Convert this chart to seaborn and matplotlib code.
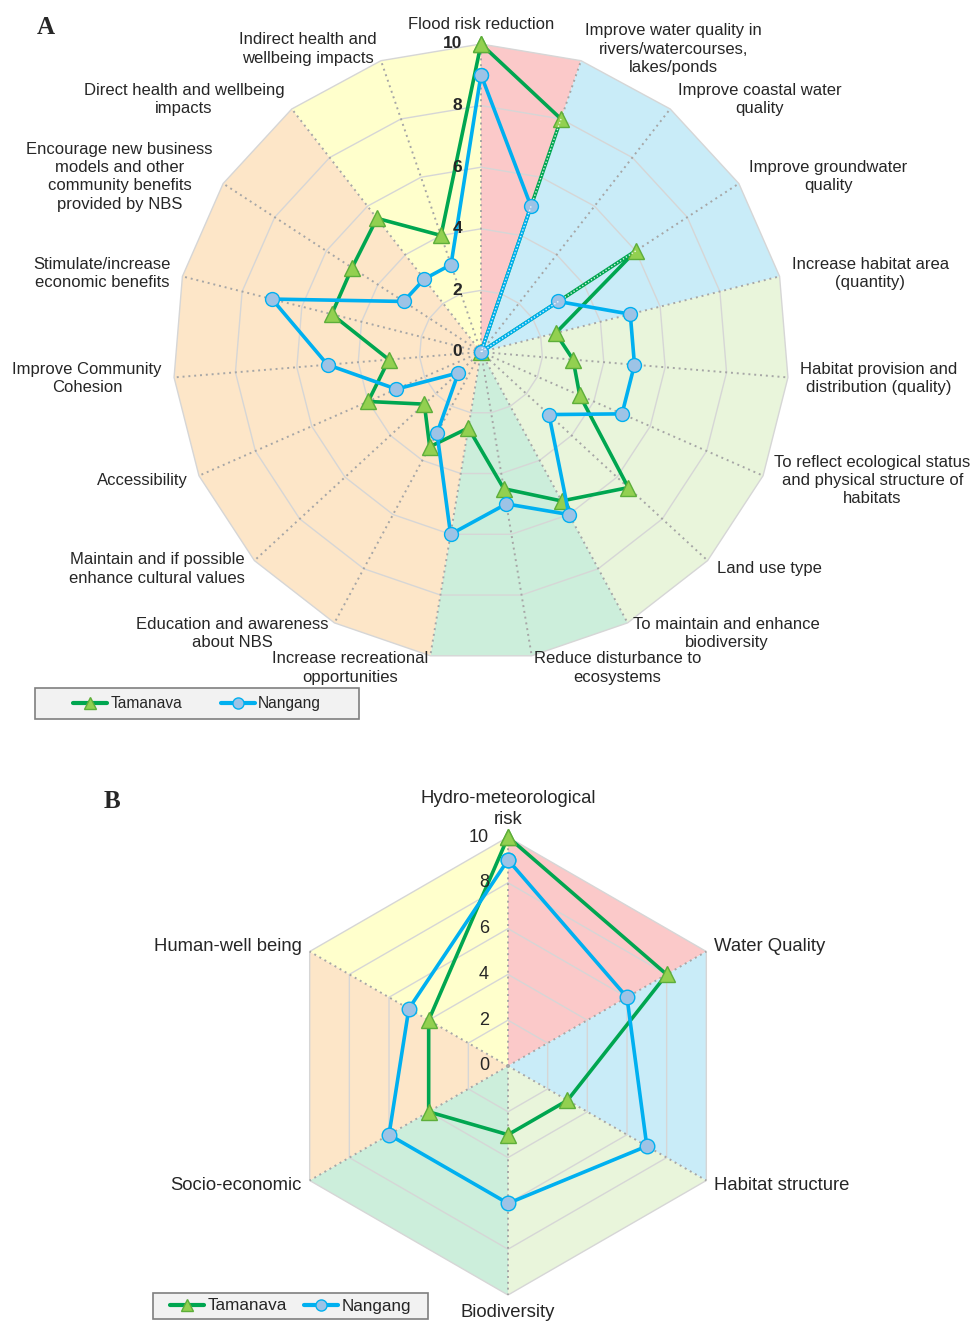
import numpy as np
import matplotlib
matplotlib.use("Agg")
import matplotlib.pyplot as plt
import seaborn as sns
from matplotlib.lines import Line2D
from matplotlib.patches import Rectangle

sns.set_style("white")
plt.rcParams["font.family"] = ["Liberation Sans", "DejaVu Sans"]

# ---------------- data ----------------
a_labels = [
    "Flood risk reduction",
    "Improve water quality in\nrivers/watercourses,\nlakes/ponds",
    "Improve coastal water\nquality",
    "Improve groundwater\nquality",
    "Increase habitat area\n(quantity)",
    "Habitat provision and\ndistribution (quality)",
    "To reflect ecological status\nand physical structure of\nhabitats",
    "Land use type",
    "To maintain and enhance\nbiodiversity",
    "Reduce disturbance to\necosystems",
    "Increase recreational\nopportunities",
    "Education and awareness\nabout NBS",
    "Maintain and if possible\nenhance cultural values",
    "Accessibility",
    "Improve Community\nCohesion",
    "Stimulate/increase\neconomic benefits",
    "Encourage new business\nmodels and other\ncommunity benefits\nprovided by NBS",
    "Direct health and wellbeing\nimpacts",
    "Indirect health and\nwellbeing impacts",
]
a_tamanava = [10, 8, 0, 6, 2.5, 3, 3.5, 6.5, 5.5, 4.5, 2.5, 3.5, 2.5, 4, 3, 5, 5, 5.5, 4]
a_nangang = [9, 5, 0, 3, 5, 5, 5, 3, 6, 5, 6, 3, 1, 3, 5, 7, 3, 3, 3]
a_sector_bounds = [0, 1, 4, 8, 10, 17, 19]

b_labels = ["Hydro-meteorological\nrisk", "Water Quality", "Habitat structure",
            "Biodiversity", "Socio-economic", "Human-well being"]
b_tamanava = [10, 8, 3, 3, 4, 4]
b_nangang = [9, 6, 7, 6, 6, 5]
b_sector_bounds = [0, 1, 2, 3, 4, 5, 6]

sector_colors = ["#FBC9C9", "#C9ECF8", "#E9F5DB", "#CCEEDB", "#FDE6C8", "#FFFFCC"]
ring_ticks = [0, 2, 4, 6, 8, 10]
series_names = ["Tamanava", "Nangang"]

GREEN = "#00A650"
BLUE = "#00B0F0"
TRI_FACE = "#92D050"
TRI_EDGE = "#5DAE3A"
CIR_FACE = "#9DC3E6"


def draw_radar(ax, labels, tam, nan, bounds, label_fs, tick_fs, tick_bold,
               lw, tri_ms, cir_ms):
    n = len(labels)
    th = np.arange(n) * 2 * np.pi / n
    th_c = np.append(th, 2 * np.pi)
    ax.set_theta_zero_location("N")
    ax.set_theta_direction(-1)
    ax.patch.set_alpha(0)
    ax.spines["polar"].set_visible(False)
    ax.grid(False)

    # background sectors
    for k in range(len(bounds) - 1):
        a, b = bounds[k], bounds[k + 1]
        ts = [0] + [th_c[j] for j in range(a, b + 1)]
        rs = [0] + [10] * (b - a + 1)
        ax.fill(ts, rs, color=sector_colors[k], lw=0, zorder=0)

    # rings
    for r in ring_ticks[1:]:
        ax.plot(th_c, [r] * len(th_c), color="#D6D6D6", lw=1.0, zorder=1)
    # spokes
    for t in th:
        ax.plot([t, t], [0, 10], color="#A6A6A6", lw=1.4, ls=(0, (1, 2)), zorder=2)

    tam_c = list(tam) + [tam[0]]
    nan_c = list(nan) + [nan[0]]
    sns.lineplot(x=th_c, y=tam_c, sort=False, estimator=None, ax=ax, color=GREEN,
                 lw=lw, marker="^", markersize=tri_ms, markerfacecolor=TRI_FACE,
                 markeredgecolor=TRI_EDGE, markeredgewidth=1.0, zorder=5)
    sns.lineplot(x=th_c, y=nan_c, sort=False, estimator=None, ax=ax, color=BLUE,
                 lw=lw, marker="o", markersize=cir_ms, markerfacecolor=CIR_FACE,
                 markeredgecolor=BLUE, markeredgewidth=1.0, zorder=6)

    # dotted look of segments running along a spoke to a zero value
    for vals, z in ((tam, 5.5), (nan, 6.5)):
        for i, v in enumerate(vals):
            if v == 0:
                for j in (i - 1, (i + 1) % n):
                    ax.plot([th[j], th[i]], [vals[j], 0], color="white", lw=1.0,
                            ls=(0, (1, 1.5)), alpha=0.85, zorder=z)

    for ln in ax.lines:
        ln.set_clip_on(False)

    ax.set_xlabel("")
    ax.set_ylabel("")
    ax.set_xticks([])
    ax.set_yticks([])
    ax.set_ylim(0, 10)
    ax.set_thetalim(0, 2 * np.pi)

    # category labels
    for t, lab in zip(th, labels):
        s = np.sin(t)
        c = np.cos(t)
        if s > 0.05:
            ha = "left"
        elif s < -0.05:
            ha = "right"
        else:
            ha = "center"
        if ha == "center":
            va = "bottom" if c > 0 else "top"
        else:
            va = "center"
        ax.text(t, 10.4, lab, ha=ha, va=va, multialignment="center",
                fontsize=label_fs, linespacing=1.27, zorder=10)

    # ring value labels
    for r in ring_ticks:
        ax.annotate(str(r), xy=(0, r), xytext=(-19, 0), textcoords="offset pixels",
                    ha="right", va="center", fontsize=tick_fs,
                    fontweight="bold" if tick_bold else "normal", zorder=10)


def add_legend(fig, box_px, fs, hl, cs):
    W, H = 973, 1324
    x0, y0, x1, y1 = box_px
    rect = Rectangle((x0 / W, 1 - y1 / H), (x1 - x0) / W, (y1 - y0) / H,
                     transform=fig.transFigure, facecolor="#F2F2F2",
                     edgecolor="#7F7F7F", lw=1.2, zorder=0)
    fig.patches.append(rect)
    handles = [
        Line2D([], [], color=GREEN, lw=3, marker="^", markersize=8,
               markerfacecolor=TRI_FACE, markeredgecolor=TRI_EDGE),
        Line2D([], [], color=BLUE, lw=3, marker="o", markersize=8,
               markerfacecolor=CIR_FACE, markeredgecolor=BLUE),
    ]
    fig.legend(handles, series_names, loc="center",
               bbox_to_anchor=((x0 + x1) / 2 / W, 1 - (y0 + y1) / 2 / H),
               ncol=2, frameon=False, fontsize=fs, handlelength=hl,
               handletextpad=0.2, columnspacing=cs, borderpad=0.2)


fig = plt.figure(figsize=(9.73, 13.24), dpi=100)
W, H = 973, 1324

# Panel A: centre (481, 352), radius 308 px
cxA, cyA, RA = 481, 352, 308
axA = fig.add_axes([(cxA - RA) / W, 1 - (cyA + RA) / H, 2 * RA / W, 2 * RA / H],
                   projection="polar")
draw_radar(axA, a_labels, a_tamanava, a_nangang, a_sector_bounds,
           label_fs=12, tick_fs=12.5, tick_bold=True, lw=2.6, tri_ms=11, cir_ms=10)

# Panel B: centre (508, 1066), radius 229 px
cxB, cyB, RB = 508, 1066, 229
axB = fig.add_axes([(cxB - RB) / W, 1 - (cyB + RB) / H, 2 * RB / W, 2 * RB / H],
                   projection="polar")
draw_radar(axB, b_labels, b_tamanava, b_nangang, b_sector_bounds,
           label_fs=13.3, tick_fs=13, tick_bold=False, lw=2.6, tri_ms=11.5, cir_ms=10.5)

add_legend(fig, (35, 688, 359, 719), 11.2, 2.2, 2.5)
add_legend(fig, (153, 1293, 428, 1319), 12.3, 2.0, 1.0)

fig.text(37 / W, 1 - 28 / H, "A", fontsize=18, fontweight="bold",
         family=["Liberation Serif", "DejaVu Serif"], va="center", ha="left")
fig.text(104 / W, 1 - 801 / H, "B", fontsize=18, fontweight="bold",
         family=["Liberation Serif", "DejaVu Serif"], va="center", ha="left")

fig.savefig("out.png", dpi=100)
